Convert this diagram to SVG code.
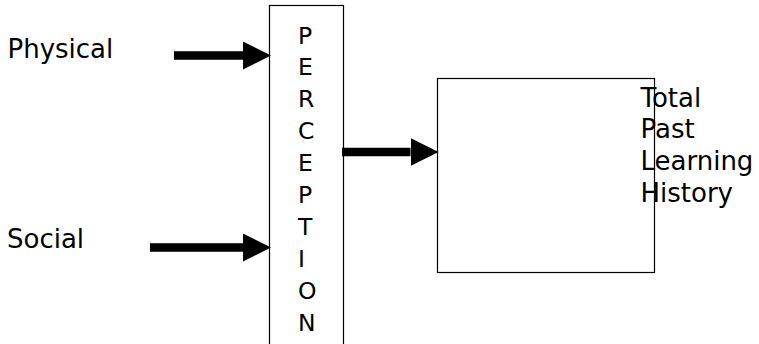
<svg xmlns="http://www.w3.org/2000/svg" width="759" height="344" viewBox="0 0 759 344">
<style>
.box{fill:none;stroke:#000;stroke-width:1.2}
.lbl{font-family:"DejaVu Sans","Verdana",sans-serif;font-size:26px;fill:#000}
.vert{font-family:"DejaVu Sans","Verdana",sans-serif;font-size:23.5px;fill:#000}
.arr{stroke:#000;stroke-width:8.5;fill:none;marker-end:url(#head)}
</style>
<defs>
<marker id="head" markerUnits="userSpaceOnUse" markerWidth="28" markerHeight="28" refX="0" refY="13.5" orient="auto" viewBox="0 0 27 27">
<path d="M0,0 L27,13.5 L0,27 z" fill="#000"/>
</marker>
</defs>
<rect width="759" height="344" fill="#fff"/>
<g id="physical"><text class="lbl" x="7.5" y="58.3">Physical</text></g>
<g id="social"><text class="lbl" x="7" y="248.3">Social</text></g>
<g id="perception">
<rect class="box" x="269.5" y="5.5" width="74" height="345"/>
<text class="vert" x="298" y="43.5">P</text>
<text class="vert" x="298" y="75.4">E</text>
<text class="vert" x="298" y="107.3">R</text>
<text class="vert" x="298" y="139.2">C</text>
<text class="vert" x="298" y="171.1">E</text>
<text class="vert" x="298" y="203">P</text>
<text class="vert" x="298" y="234.9">T</text>
<text class="vert" x="298" y="266.8">I</text>
<text class="vert" x="298" y="298.7">O</text>
<text class="vert" x="298" y="330.6">N</text>
</g>
<g id="history">
<rect class="box" x="437.5" y="78.5" width="217" height="194"/>
<text class="lbl" x="640.5" y="106.5">Total</text>
<text class="lbl" x="640.5" y="138.3">Past</text>
<text class="lbl" x="640.5" y="170.1">Learning</text>
<text class="lbl" x="640.5" y="201.9">History</text>
</g>
<g id="connectors">
<line class="arr" x1="174" y1="55.5" x2="243" y2="55.5"/>
<line class="arr" x1="150" y1="247.5" x2="243" y2="247.5"/>
<line class="arr" x1="342" y1="152" x2="410.5" y2="152"/>
</g>
</svg>
